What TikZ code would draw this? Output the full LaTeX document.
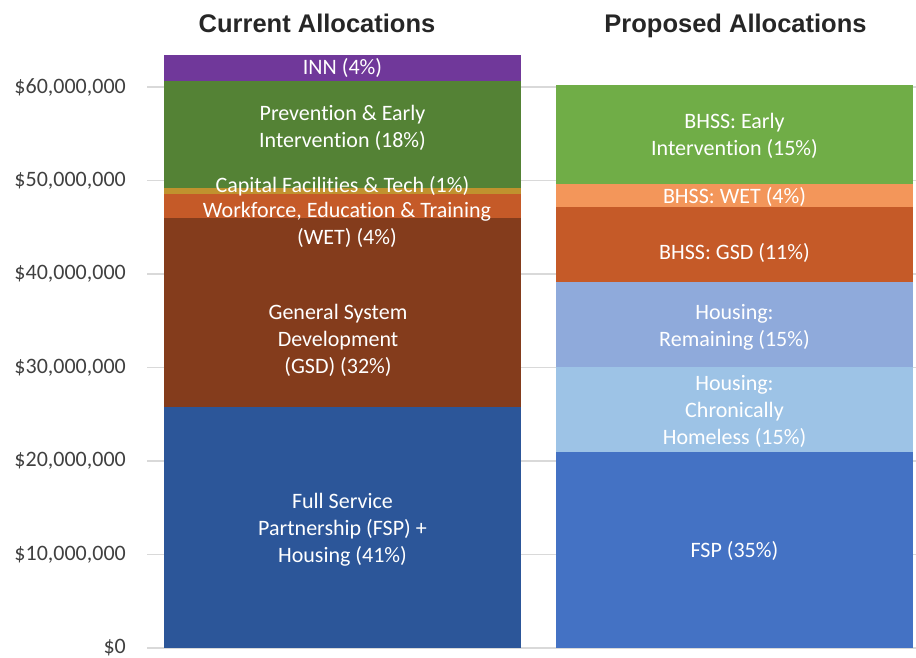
\documentclass[tikz,border=0pt]{standalone}
\usepackage{fontspec}
\setmainfont{Carlito}[Ligatures=NoCommon]
\newfontfamily\titlefont{Liberation Sans}
\definecolor{cINN}{RGB}{112,56,154}
\definecolor{cPEI}{RGB}{84,130,53}
\definecolor{cCAP}{RGB}{192,146,46}
\definecolor{cWETl}{RGB}{197,90,40}
\definecolor{cGSDl}{RGB}{132,60,28}
\definecolor{cFSPl}{RGB}{44,86,153}
\definecolor{cEI}{RGB}{112,173,71}
\definecolor{cWETr}{RGB}{243,150,90}
\definecolor{cGSDr}{RGB}{197,90,40}
\definecolor{cHR}{RGB}{143,170,219}
\definecolor{cHCH}{RGB}{157,195,230}
\definecolor{cFSPr}{RGB}{68,114,196}
\definecolor{cGrid}{RGB}{217,217,217}
\definecolor{cAxis}{RGB}{64,64,64}
\definecolor{cTitle}{RGB}{38,38,38}
\tikzset{
  seglabel/.style={text=white, align=center, inner sep=0pt, font=\fontsize{22}{27}\selectfont},
  axislabel/.style={text=cAxis, anchor=east, inner sep=0pt, font=\fontsize{22}{27}\selectfont},
  charttitle/.style={text=cTitle, inner sep=0pt, anchor=base, font=\titlefont\bfseries\fontsize{25.5}{30}\selectfont},
  gridline/.style={draw=cGrid, line width=1.4pt}
}
\begin{document}
\begin{tikzpicture}[x=1pt,y=-1pt]
\useasboundingbox (0,0) rectangle (916,658);
% grid lines
\foreach \v/\lab [count=\i] in {648/\$0, 554.5/\$10{,}000{,}000, 461/\$20{,}000{,}000, 367.5/\$30{,}000{,}000, 274/\$40{,}000{,}000, 180.5/\$50{,}000{,}000, 87/\$60{,}000{,}000}{
  \coordinate (gl\i) at (147,\v);
  \coordinate (gr\i) at (916,\v);
  \draw[gridline] (gl\i) -- (gr\i);
  \node[axislabel] (ax\i) at (126,\v) {\lab};
}
% titles
\node[charttitle] (t1) at (317,33) {Current Allocations};
\node[charttitle] (t2) at (735.5,33) {Proposed Allocations};
% left bar
\fill[cFSPl] (164,648) rectangle (521,407);
\fill[cGSDl] (164,407) rectangle (521,218);
\fill[cWETl] (164,218) rectangle (521,194);
\fill[cCAP] (164,194) rectangle (521,188);
\fill[cPEI] (164,188) rectangle (521,81);
\fill[cINN] (164,81) rectangle (521,55);
% right bar
\fill[cFSPr] (556,648) rectangle (913,452);
\fill[cHCH] (556,452) rectangle (913,367);
\fill[cHR] (556,367) rectangle (913,282);
\fill[cGSDr] (556,282) rectangle (913,207);
\fill[cWETr] (556,207) rectangle (913,184);
\fill[cEI] (556,184) rectangle (913,85);
% left labels
\node[seglabel] (lINN) at (342.5,68) {INN (4\%)};
\node[seglabel] (lPEI) at (342.5,128) {Prevention \& Early\\Intervention (18\%)};
\node[seglabel] (lCAP) at (342.5,186) {Capital Facilities \& Tech (1\%)};
\node[seglabel] (lWET) at (347,225) {Workforce, Education \& Training\\(WET) (4\%)};
\node[seglabel] (lGSD) at (338,340) {General System\\Development\\(GSD) (32\%)};
\node[seglabel] (lFSP) at (342.5,530) {Full Service\\Partnership (FSP) +\\Housing (41\%)};
% right labels
\node[seglabel] (rEI) at (734.5,136) {BHSS: Early\\Intervention (15\%)};
\node[seglabel] (rWET) at (734.5,196.5) {BHSS: WET (4\%)};
\node[seglabel] (rGSD) at (734.5,253) {BHSS: GSD (11\%)};
\node[seglabel] (rHR) at (734.5,327) {Housing:\\Remaining (15\%)};
\node[seglabel] (rHCH) at (734.5,411) {Housing:\\Chronically\\Homeless (15\%)};
\node[seglabel] (rFSP) at (734.5,551) {FSP (35\%)};
\end{tikzpicture}
\end{document}
